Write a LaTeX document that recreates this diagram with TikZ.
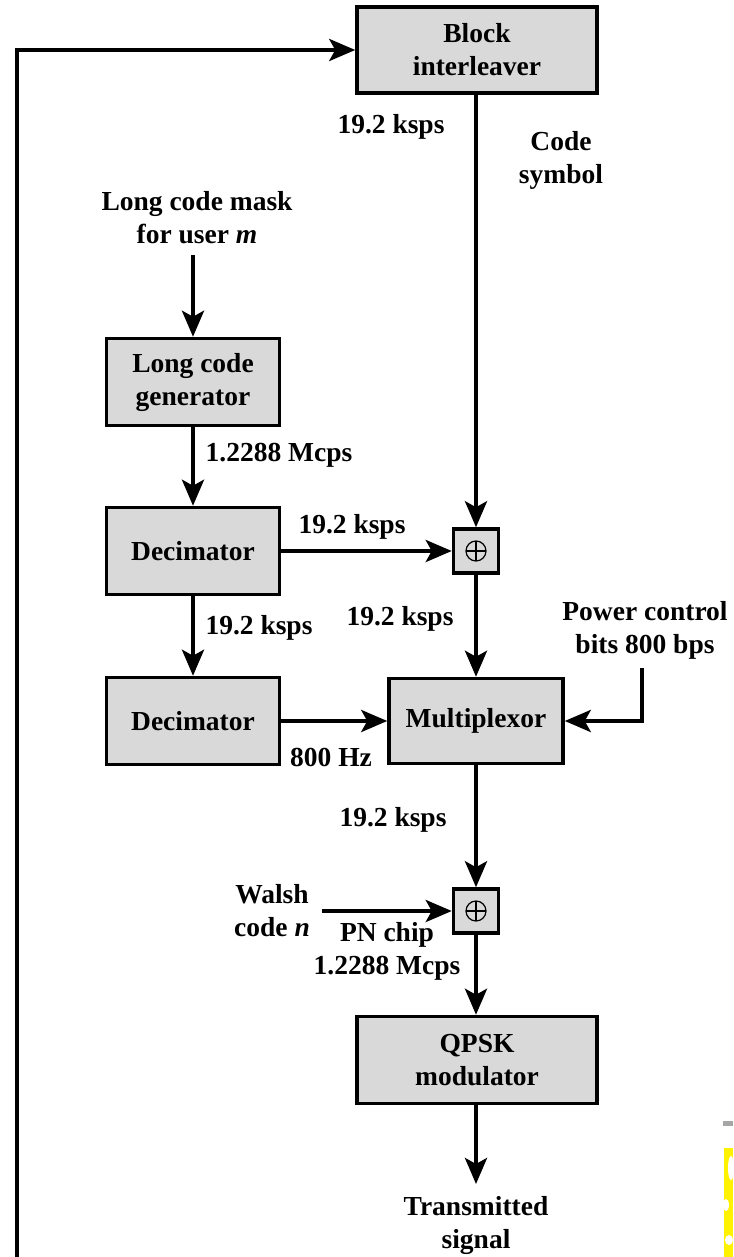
\documentclass[tikz,border=0pt]{standalone}
\usepackage{fontspec}
\setmainfont{Liberation Serif}
\usetikzlibrary{arrows.meta}
\definecolor{boxgray}{HTML}{D9D9D9}
\tikzset{
  x=1pt, y=1pt,
  every node/.style={font=\fontsize{27.5}{33}\selectfont\bfseries},
  blk/.style={draw=black, line width=3.5pt, fill=boxgray, align=center, inner sep=0pt, minimum width=#1},
  blk/.default=173pt,
  xorbox/.style={draw=black, line width=3.5pt, fill=boxgray, inner sep=0pt, minimum width=45pt, minimum height=44pt,
    path picture={
      \draw[line width=1.2pt] (path picture bounding box.center) circle (10pt);
      \draw[line width=1.2pt] ([xshift=-10pt]path picture bounding box.center) -- ([xshift=10pt]path picture bounding box.center);
      \draw[line width=1.2pt] ([yshift=-10pt]path picture bounding box.center) -- ([yshift=10pt]path picture bounding box.center);
    }},
  lbl/.style={align=center, inner sep=0pt},
  conn/.style={line width=4pt, -{Stealth[length=26pt, width=22pt, inset=6pt]}},
}
\begin{document}
\begin{tikzpicture}
\useasboundingbox (0,0) rectangle (733,-1257);
% boxes
\node[blk=240pt, minimum height=86pt] (bi) at (477,-50) {Block\\interleaver};
\node[blk, minimum height=87pt] (lcg) at (193,-382) {Long code\\generator};
\node[blk, minimum height=87pt] (dec1) at (193,-551) {Decimator};
\node[blk, minimum height=87pt] (dec2) at (193,-721) {Decimator};
\node[xorbox] (x1) at (476,-551) {};
\node[blk=174pt, minimum height=85pt] (mux) at (476,-721) {Multiplexor};
\node[xorbox] (x2) at (476,-911) {};
\node[blk=240pt, minimum height=87pt] (qpsk) at (477,-1060) {QPSK\\modulator};
% labels
\node[lbl] (l1) at (391,-127) {19.2 ksps};
\node[lbl] (cs) at (561,-160) {Code\\symbol};
\node[lbl] (lcm) at (197,-218) {Long code mask\\for user \textit{m}};
\node[lbl] (l2) at (279,-455) {1.2288 Mcps};
\node[lbl] (l3) at (352,-527) {19.2 ksps};
\node[lbl] (l4) at (259,-628) {19.2 ksps};
\node[lbl] (l5) at (400,-619) {19.2 ksps};
\node[lbl] (pc) at (645,-630) {Power control\\bits 800 bps};
\node[lbl] (hz) at (331,-757) {800 Hz};
\node[lbl] (l6) at (393,-820) {19.2 ksps};
\node[lbl] (wc) at (272,-911) {Walsh\\code \textit{n}};
\node[lbl] (pn) at (387,-951) {PN chip\\1.2288 Mcps};
\node[lbl] (ts) at (476,-1225) {Transmitted\\signal};
% coordinates
\coordinate (lcmstart) at (193,-255);
\coordinate (pcstart) at (642,-668);
\coordinate (pccorner) at (642,-721);
\coordinate (wstart) at (322,-911);
\coordinate (tsend) at (476,-1184);
\coordinate (fbstart) at (17,-1262);
\coordinate (fbcorner) at (17,-50);
% connectors
\draw[conn] (lcmstart) -- (lcg.north);
\draw[conn] (lcg.south) -- (dec1.north);
\draw[conn] (dec1.south) -- (dec2.north);
\draw[conn] (dec1.east) -- (x1.west);
\draw[conn] (bi.south -| x1.north) -- (x1.north);
\draw[conn] (x1.south) -- (mux.north);
\draw[conn] (dec2.east) -- (mux.west);
\draw[conn] (pcstart) -- (pccorner) -- (mux.east);
\draw[conn] (mux.south) -- (x2.north);
\draw[conn] (wstart) -- (x2.west);
\draw[conn] (x2.south) -- (qpsk.north -| x2.south);
\draw[conn] (qpsk.south -| x2.south) -- (tsend);
\draw[conn] (fbstart) -- (fbcorner) -- (bi.west);
% edge artefacts
\fill[gray!70] (723,-1121) rectangle (733,-1126);
\fill[yellow] (724,-1148) rectangle (733,-1257);
\fill[white] (731,-1168) ellipse (3 and 12);
\fill[white] (726,-1205) ellipse (3 and 6);
\fill[white] (729,-1240) ellipse (4 and 5);
\end{tikzpicture}
\end{document}
